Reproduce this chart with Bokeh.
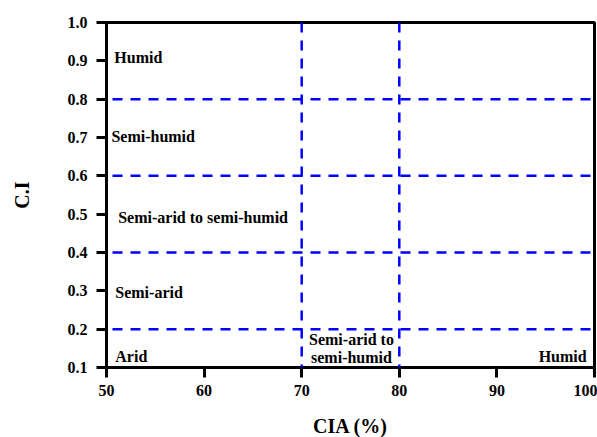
from bokeh.plotting import figure
from bokeh.models import Span, FixedTicker, ColumnDataSource, Range1d
from bokeh.core.properties import value
from bokeh.embed import file_html
from bokeh.resources import INLINE

# ---- data ----
x_ticks = [50, 60, 70, 80, 90, 100]
y_ticks = [0.1, 0.2, 0.3, 0.4, 0.5, 0.6, 0.7, 0.8, 0.9, 1.0]
y_tick_labels = ["0.1", "0.2", "0.3", "0.4", "0.5", "0.6", "0.7", "0.8", "0.9", "1.0"]
h_lines = [0.2, 0.4, 0.6, 0.8]
v_lines = [70, 80]

left_labels = ["Humid", "Semi-humid", "Semi-arid to semi-humid", "Semi-arid", "Arid"]
left_x = [50.8, 50.5, 51.2, 50.9, 50.9]
left_y = [0.908, 0.703, 0.491, 0.296, 0.129]

mid_labels = ["Semi-arid to", "semi-humid"]
mid_x = [75.1, 75.1]
mid_y = [0.173, 0.126]

right_labels = ["Humid"]
right_x = [99.2]
right_y = [0.129]

FONT = "Liberation Serif"

p = figure(frame_width=488, frame_height=345, output_backend="svg", toolbar_location=None,
           x_range=Range1d(50, 100), y_range=Range1d(0.1, 1.0),
           min_border_left=106, min_border_right=3, min_border_top=22, min_border_bottom=70)

p.background_fill_color = "white"
p.border_fill_color = "white"
p.outline_line_color = "black"
p.outline_line_width = 3
p.xgrid.visible = False
p.ygrid.visible = False

for ax in (p.xaxis[0], p.yaxis[0]):
    ax.axis_line_width = 3
    ax.major_tick_line_width = 3
    ax.major_tick_out = 10
    ax.major_tick_in = 0
    ax.minor_tick_line_color = None
    ax.major_label_text_font = FONT
    ax.major_label_text_font_style = "bold"
    ax.major_label_text_font_size = "16px"
    ax.major_label_text_color = "black"
    ax.axis_label_text_font = FONT
    ax.axis_label_text_font_style = "bold"
    ax.axis_label_text_font_size = "20px"
    ax.axis_label_text_color = "black"

p.xaxis[0].ticker = FixedTicker(ticks=x_ticks)
p.yaxis[0].ticker = FixedTicker(ticks=y_ticks)
p.yaxis[0].major_label_overrides = {t: l for t, l in zip(y_ticks, y_tick_labels)}
p.xaxis[0].axis_label = "CIA (%)"
p.yaxis[0].axis_label = "C.I"
p.xaxis[0].major_label_standoff = 7
p.yaxis[0].major_label_standoff = 9
p.xaxis[0].axis_label_standoff = 16
p.yaxis[0].axis_label_standoff = 32

for yv in h_lines:
    p.add_layout(Span(location=yv, dimension="width", line_color="#0000FF",
                      line_width=2.5, line_dash="10 8", line_dash_offset=-6))
for xv in v_lines:
    p.add_layout(Span(location=xv, dimension="height", line_color="#0000FF",
                      line_width=2.5, line_dash="10 8"))

src_l = ColumnDataSource(dict(x=left_x, y=left_y, t=left_labels))
src_m = ColumnDataSource(dict(x=mid_x, y=mid_y, t=mid_labels))
src_r = ColumnDataSource(dict(x=right_x, y=right_y, t=right_labels))

common = dict(text="t", text_font=value(FONT), text_font_style="bold",
              text_font_size="16px", text_color="black", text_baseline="middle")
p.text(x="x", y="y", source=src_l, text_align="left", **common)
p.text(x="x", y="y", source=src_m, text_align="center", **common)
p.text(x="x", y="y", source=src_r, text_align="right", **common)

open("out.html", "w").write(file_html(p, INLINE))
